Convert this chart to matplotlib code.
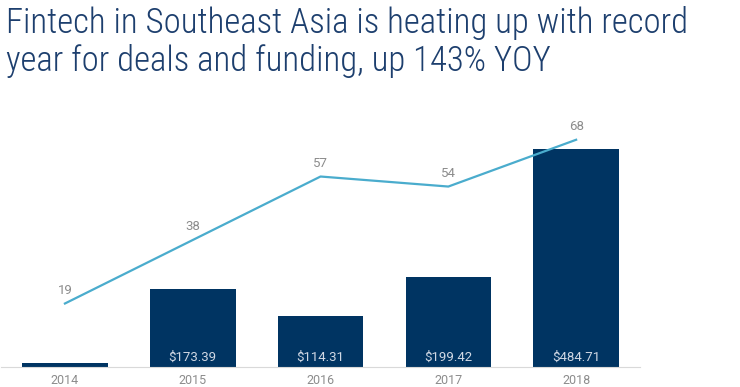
import matplotlib.pyplot as plt
import numpy as np
from matplotlib import font_manager

years = ["2014", "2015", "2016", "2017", "2018"]
funding = [9.0, 173.39, 114.31, 199.42, 484.71]
funding_labels = ["", "$173.39", "$114.31", "$199.42", "$484.71"]
deals = [19, 38, 57, 54, 68]

names = {f.name for f in font_manager.fontManager.ttflist}
title_font, title_size = "Roboto", 23.5
for cand, size in [("Roboto Condensed", 25), ("Open Sans Condensed", 25),
                   ("Liberation Sans Narrow", 25)]:
    if cand in names:
        title_font, title_size = cand, size
        break

navy = "#003462"
teal = "#4aaccd"
grey = "#8c8c8c"

fig = plt.figure(figsize=(7.4, 3.87), dpi=100)
ax = fig.add_axes([0.0014, 0.0517, 0.8635, 0.664])
x = np.arange(len(years))
ax.bar(x, funding, width=0.67, color=navy, zorder=2)
ax.set_xlim(-0.5, 4.5)
ax.set_ylim(0, 571.5)
for i, lab in enumerate(funding_labels):
    if lab:
        ax.text(x[i], 22, lab, ha="center", va="center", color="#d0d8e4",
                fontsize=9.5, family="Roboto", zorder=3)
ax.set_xticks(x)
ax.set_xticklabels(years, color=grey, fontsize=9, family="Roboto")
ax.tick_params(axis="x", length=0, pad=5)
ax.set_yticks([])
for s in ["top", "right", "left"]:
    ax.spines[s].set_visible(False)
ax.spines["bottom"].set_color("#d9d9d9")

ax2 = ax.twinx()
ax2.plot(x, deals, color=teal, lw=1.6, zorder=4)
ax2.set_ylim(0, 76.9)
ax2.set_yticks([])
for s in ["top", "right", "left", "bottom"]:
    ax2.spines[s].set_visible(False)
for i, v in enumerate(deals):
    ax2.text(x[i], v + 2.0, str(v), ha="center", va="bottom", color=grey,
             fontsize=9.5, family="Roboto")

fig.text(0.008, 0.985, "Fintech in Southeast Asia is heating up with record\nyear for deals and funding, up 143% YOY",
         ha="left", va="top", color="#1d3f6e", fontsize=title_size,
         family=title_font, weight="light", linespacing=1.15)

fig.savefig("out.png", dpi=100)
